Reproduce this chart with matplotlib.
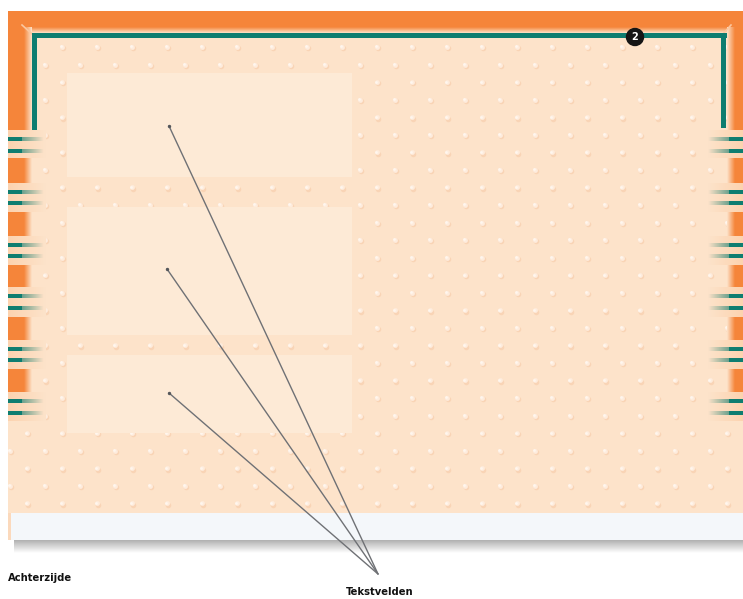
import numpy as np
import matplotlib
matplotlib.use('Agg')
import matplotlib.pyplot as plt
from matplotlib.patches import Rectangle, Circle
from matplotlib.colors import to_rgba

W, H = 743, 599

# layout, in pixels (y downwards)
panel_x = (8, 743)
panel_y = (11, 513)
band_y = (513, 540)
stripe_y = [139, 151, 192, 203, 245, 256, 296, 308, 349, 360, 401, 413]
group_y = [(130, 158), (183, 212), (236, 265), (287, 317), (340, 369), (392, 421)]
box_x = (67, 352)
boxes_y = [(73, 177), (207, 335), (355, 433)]
anchors_x = [169, 167, 169]
anchors_y = [126, 269, 393]
hub_xy = (378, 574)
label_back = 'Achterzijde'
label_fields = 'Tekstvelden'
badge_text = '2'
badge_xy = (635, 37)

# dot texture grid
dot_row0, dot_dy, dot_rows = 47, 17.55, 27
dot_x_even, dot_x_odd, dot_dx = 27, 10, 35

orange = '#F5853A'
teal = '#0E7D70'
peach = '#FDE3CA'
box_col = '#FDEAD6'
band_col = '#F4F7FA'
line_col = '#6F7175'


def grad(ax, x0, x1, y0, y1, c0, c1, horizontal=True, z=2, n=64):
    a = np.array(to_rgba(c0))
    b = np.array(to_rgba(c1))
    t = np.linspace(0, 1, n)[:, None]
    img = a + (b - a) * t
    img = img[None, :, :] if horizontal else img[:, None, :]
    ax.imshow(img, extent=(x0, x1, y1, y0), aspect='auto',
              interpolation='bilinear', zorder=z)


fig = plt.figure(figsize=(W / 100, H / 100), dpi=100)
ax = fig.add_axes([0, 0, 1, 1])
ax.set_axis_off()

# panel background
ax.add_patch(Rectangle((panel_x[0], panel_y[0]), panel_x[1] - panel_x[0],
                       panel_y[1] - panel_y[0], color=peach, zorder=1, lw=0))

# dots (soft bumps)
for k in range(dot_rows):
    y = dot_row0 + k * dot_dy
    xs = np.arange(dot_x_even if k % 2 == 0 else dot_x_odd, W, dot_dx)
    ys = np.full(len(xs), y)
    ax.scatter(xs + 1.3, ys + 1.3, s=16, marker='o', color='#F8CFAE', alpha=0.7, lw=0, zorder=3)
    ax.scatter(xs, ys, s=12, marker='o', color='#FEECDD', lw=0, zorder=3)
    ax.scatter(xs - 0.6, ys - 0.6, s=4, marker='o', color='#FFF6EE', lw=0, zorder=3)

# bottom light band and shadow
ax.add_patch(Rectangle((11, band_y[0]), W - 11, band_y[1] - band_y[0],
                       color=band_col, zorder=4, lw=0))
ax.add_patch(Rectangle((8, band_y[0]), 3, band_y[1] - band_y[0],
                       color='#FBD9BC', zorder=4, lw=0))
grad(ax, 14, W, band_y[1], band_y[1] + 13, '#B0B0B0', '#FFFFFF',
     horizontal=False, z=4)

# orange border: top, left, right
ax.add_patch(Rectangle((8, 11), W - 8, 16, color=orange, zorder=5, lw=0))
grad(ax, 8, W, 27, 33, orange, peach, horizontal=False, z=5)
ax.add_patch(Rectangle((8, 11), 16, 410, color=orange, zorder=5, lw=0))
grad(ax, 24, 32, 27, 421, orange, peach, z=5)
ax.add_patch(Rectangle((735, 11), 8, 410, color=orange, zorder=5, lw=0))
grad(ax, 727, 735, 27, 421, peach, orange, z=5)
ax.plot([22, 32], [25, 34], color='#FBC79F', lw=1.2, zorder=6)
ax.plot([731, 723], [25, 34], color='#FBC79F', lw=1.2, zorder=6)

# stripe groups on both sides
for g0, g1 in group_y:
    grad(ax, 8, 46, g0, g1, '#FCD3B0', peach, z=6)
    grad(ax, 708, W, g0, g1, peach, '#FCD3B0', z=6)
for y in stripe_y:
    grad(ax, 8, 44, y - 2, y + 2, teal, to_rgba(teal, 0), z=7)
    ax.add_patch(Rectangle((8, y - 2), 14, 4, color=teal, zorder=7, lw=0))
    grad(ax, 708, W, y - 2, y + 2, to_rgba(teal, 0), teal, z=7)
    ax.add_patch(Rectangle((729, y - 2), 14, 4, color=teal, zorder=7, lw=0))

# teal frame
ax.add_patch(Rectangle((32, 33), 695, 5, color=teal, zorder=8, lw=0))
ax.add_patch(Rectangle((32, 33), 5, 97, color=teal, zorder=8, lw=0))
ax.add_patch(Rectangle((721, 33), 5, 95, color=teal, zorder=8, lw=0))

# badge
ax.add_patch(Circle(badge_xy, 8.5, color='#151515', zorder=9))
ax.text(badge_xy[0], badge_xy[1] + 0.5, badge_text, color='white', fontsize=7,
        fontweight='bold', ha='center', va='center', zorder=10)

# text boxes
for y0, y1 in boxes_y:
    ax.add_patch(Rectangle((box_x[0], y0), box_x[1] - box_x[0], y1 - y0,
                           color=box_col, zorder=8, lw=0))

# leader lines
for x, y in zip(anchors_x, anchors_y):
    ax.plot([x, hub_xy[0]], [y, hub_xy[1]], color=line_col, lw=1.0, zorder=11,
            solid_capstyle='round')
ax.scatter(anchors_x, anchors_y, s=6, color='#55575B', zorder=12, lw=0)

# labels
ax.text(8, 578, label_back, fontsize=7.2, fontweight='bold', color='#111111',
        ha='left', va='center', zorder=12)
ax.text(380, 592, label_fields, fontsize=7.2, fontweight='bold', color='#111111',
        ha='center', va='center', zorder=12)

ax.set_xlim(0, W)
ax.set_ylim(H, 0)
fig.savefig('out.png', dpi=100, facecolor='white')
